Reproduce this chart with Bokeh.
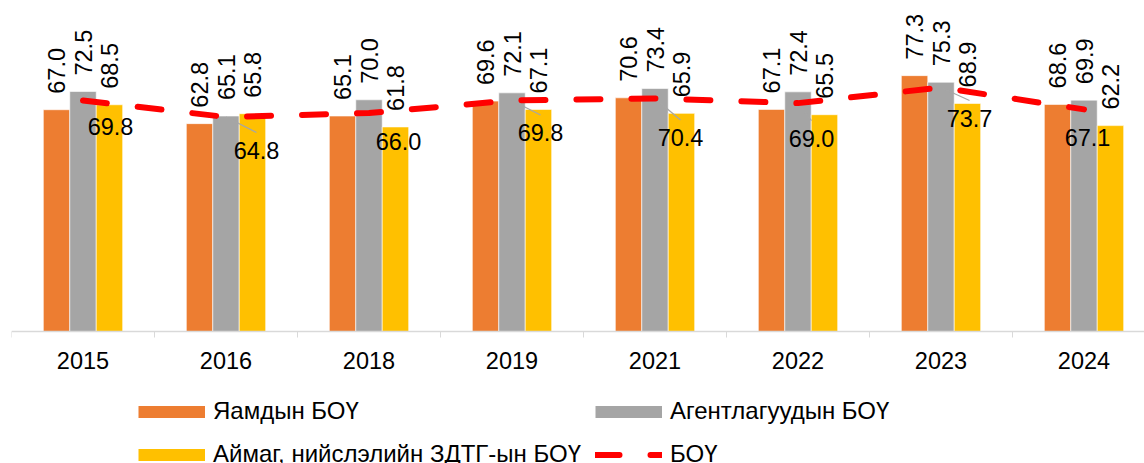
import numpy as np
from bokeh.plotting import figure
from bokeh.models import (ColumnDataSource, Range1d, FixedTicker, Legend, LegendItem)
from bokeh.core.properties import value
from bokeh.embed import file_html
from bokeh.resources import INLINE

# ---- data ----
years = ["2015", "2016", "2018", "2019", "2021", "2022", "2023", "2024"]
yamdyn = [67.0, 62.8, 65.1, 69.6, 70.6, 67.1, 77.3, 68.6]
agent = [72.5, 65.1, 70.0, 72.1, 73.4, 72.4, 75.3, 69.9]
aimag = [68.5, 65.8, 61.8, 67.1, 65.9, 65.5, 68.9, 62.2]
boy = [69.8, 64.8, 66.0, 69.8, 70.4, 69.0, 73.7, 67.1]
series_names = ["Яамдын БОҮ", "Агентлагуудын БОҮ", "Аймаг, нийслэлийн ЗДТГ-ын БОҮ", "БОҮ"]

# ---- styles / layout ----
FONT = "Liberation Sans"
FS = "23.5px"
LFS = "24px"
colors = ["#ED7D31", "#A5A5A5", "#FFC000"]
red = "#FF0000"
bw = 0.185
PX_X = 143.0   # pixels per category
PX_Y = 3.31    # pixels per unit
# pixel offsets of the БОҮ labels (label placement, not data)
lab_dx = [27.5, 30.5, 29.5, 28.5, 25.5, 13.5, 28.5, 3.5]
lab_dy = [26, 33.5, 28.5, 32.5, 39.5, 35.5, 31, 28]
has_leader = [False, True, False, True, True, True, True, False]

n = len(years)
xc = np.arange(n) + 0.5

W, H = 1144, 463
p = figure(width=W, height=H, output_backend="svg", toolbar_location=None,
           x_range=Range1d(0, (W - 11) / PX_X),
           y_range=Range1d(-(H - 331) / PX_Y, 331 / PX_Y),
           y_axis_location=None, min_border_left=11, min_border_right=0,
           min_border_top=0, min_border_bottom=0)
p.outline_line_color = None
p.grid.visible = False
p.background_fill_color = "white"
p.border_fill_color = "white"

# bars
for k, (vals, off) in enumerate(zip([yamdyn, agent, aimag], [-bw, 0, bw])):
    src = ColumnDataSource(dict(x=xc + off, top=vals))
    p.vbar(x="x", top="top", width=bw, bottom=0, source=src,
           fill_color=colors[k], line_color="white", line_width=0.6)

# leader lines for the moved БОҮ labels
idx = [i for i in range(n) if has_leader[i]]
p.segment(x0=[xc[i] for i in idx], y0=[boy[i] for i in idx],
          x1=[xc[i] + lab_dx[i] / PX_X for i in idx],
          y1=[boy[i] - (lab_dy[i] - 18) / PX_Y for i in idx],
          line_color="#A6A6A6", line_width=1.2)

# line
line_r = p.line(x=xc, y=boy, line_color=red, line_width=6, line_dash="24 31",
                line_cap="round")

# bar labels (vertical)
for vals, off in zip([yamdyn, agent, aimag], [-bw, 0, bw]):
    src = ColumnDataSource(dict(x=xc + off, y=vals, t=[f"{v:.1f}" for v in vals]))
    p.text(x="x", y="y", text="t", source=src, angle=np.pi / 2, y_offset=-16,
           text_align="left", text_baseline="middle",
           text_font=value(FONT), text_font_size=FS, text_color="black")

# line labels
src = ColumnDataSource(dict(x=xc, y=boy, t=[f"{v:.1f}" for v in boy],
                            dx=lab_dx, dy=lab_dy))
p.text(x="x", y="y", text="t", source=src, x_offset="dx", y_offset="dy",
       text_align="center", text_baseline="middle",
       text_font=value(FONT), text_font_size=FS, text_color="black")

# x axis at y = 0
ax = p.xaxis[0]
ax.fixed_location = 0
ax.ticker = FixedTicker(ticks=list(xc), minor_ticks=list(range(n + 1)))
ax.major_label_overrides = {float(x): y for x, y in zip(xc, years)}
ax.major_tick_line_color = None
ax.minor_tick_line_color = "#D9D9D9"
ax.minor_tick_in = 0
ax.minor_tick_out = 6
ax.axis_line_color = "#D9D9D9"
ax.axis_line_width = 1.5
ax.major_label_text_font = FONT
ax.major_label_text_font_size = FS
ax.major_label_text_color = "black"
ax.major_label_standoff = 14

# legend dummies
dummies = []
for c in colors:
    dummies.append(p.line(x=[np.nan, np.nan], y=[np.nan, np.nan], line_color=c,
                          line_width=12, line_cap="butt"))
items = [LegendItem(label=series_names[0], renderers=[dummies[0]]),
         LegendItem(label=series_names[1], renderers=[dummies[1]]),
         LegendItem(label=series_names[2], renderers=[dummies[2]]),
         LegendItem(label=series_names[3], renderers=[line_r])]
GH, SP = 29, 14
leg_top = 411 - GH / 2
leg_bottom = leg_top + 2 * GH + SP
legend = Legend(items=items, location=(127, H - leg_bottom), orientation="horizontal", ncols=2,
                glyph_width=67, glyph_height=GH, label_standoff=8, spacing=SP,
                padding=0, margin=0, border_line_color=None, background_fill_alpha=0,
                label_text_font=FONT, label_text_font_size=LFS, label_text_color="black")
p.add_layout(legend, "center")

open("out.html", "w").write(file_html(p, INLINE))
